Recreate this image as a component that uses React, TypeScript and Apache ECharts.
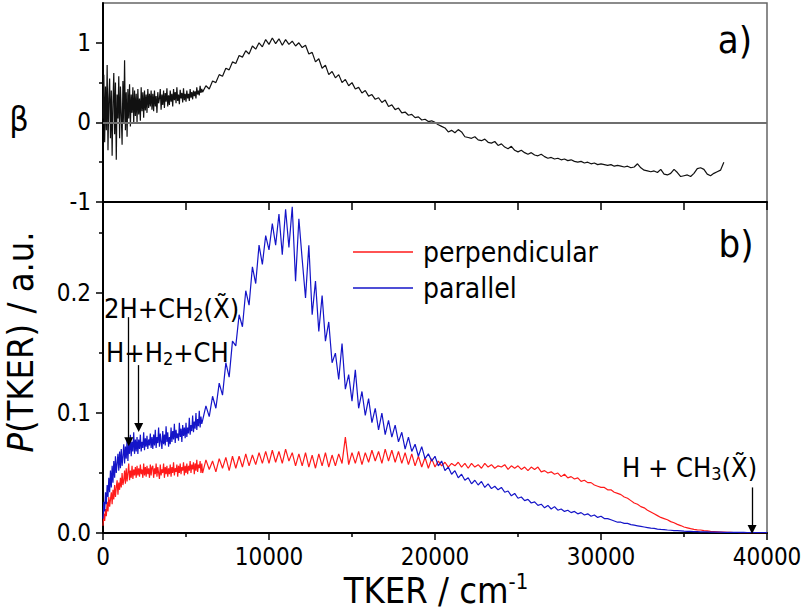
import React, { useEffect, useRef } from "react";
import * as echarts from "echarts";

// TKER sampling (cm-1): 50 cm-1 steps below 6000, 200 cm-1 steps above
const tkerFine: number[] = Array.from({ length: 120 }, (_, i) => i * 50);
const tkerCoarse: number[] = Array.from({ length: 171 }, (_, i) => 6000 + i * 200);
const tker: number[] = [...tkerFine, ...tkerCoarse];

// anisotropy parameter beta (0 .. 37400 cm-1)
const beta: number[] = [
  // 0 - 5950 (50 cm-1 steps)
  0.05, 0.6, -0.25, 0.45, -0.1, 0.72, -0.35, 0.3, 0.55, -0.2,
  0.4, -0.42, 0.25, 0.62, -0.15, 0.5, -0.47, 0.35, 0.05, 0.58,
  -0.2, 0.45, 0.1, -0.28, 0.52, 0.0, 0.78, -0.1, 0.38, -0.18,
  0.42, 0.05, 0.48, -0.05, 0.35, 0.12, 0.44, -0.02, 0.4, 0.08,
  0.36, 0.0, 0.42, 0.1, 0.3, 0.02, 0.44, 0.14, 0.38, 0.06,
  0.4, 0.15, 0.35, 0.12, 0.42, 0.18, 0.36, 0.2, 0.4, 0.16,
  0.36, 0.14, 0.4, 0.2, 0.33, 0.12, 0.38, 0.24, 0.3, 0.42,
  0.16, 0.35, 0.22, 0.4, 0.18, 0.37, 0.26, 0.43, 0.2, 0.34,
  0.22, 0.4, 0.26, 0.36, 0.2, 0.42, 0.28, 0.38, 0.24, 0.44,
  0.27, 0.35, 0.23, 0.41, 0.3, 0.37, 0.25, 0.43, 0.28, 0.36,
  0.26, 0.4, 0.3, 0.36, 0.27, 0.42, 0.31, 0.38, 0.29, 0.4,
  0.33, 0.39, 0.3, 0.44, 0.35, 0.4, 0.34, 0.46, 0.37, 0.42,
  // 6000 - 37400 (200 cm-1 steps)
  0.38, 0.46, 0.42, 0.52, 0.5, 0.6, 0.58, 0.68, 0.66, 0.76,
  0.74, 0.84, 0.82, 0.9, 0.86, 0.96, 0.92, 1.0, 0.95, 1.04,
  0.98, 1.06, 0.99, 1.05, 0.97, 1.04, 0.98, 1.02, 0.96, 1.0,
  0.94, 0.97, 0.86, 0.88, 0.76, 0.8, 0.68, 0.72, 0.6, 0.64,
  0.56, 0.6, 0.5, 0.54, 0.46, 0.5, 0.42, 0.44, 0.37, 0.4,
  0.33, 0.35, 0.29, 0.31, 0.25, 0.28, 0.2, 0.22, 0.16, 0.18,
  0.12, 0.13, 0.09, 0.1, 0.06, 0.07, 0.03, 0.04, 0.01, 0.02,
  0.0, -0.03, -0.05, -0.07, -0.12, -0.1, -0.13, -0.09, -0.12, -0.18,
  -0.19, -0.2, -0.18, -0.22, -0.23, -0.21, -0.25, -0.26, -0.24, -0.29,
  -0.27, -0.31, -0.33, -0.3, -0.35, -0.37, -0.35, -0.38, -0.4, -0.38,
  -0.41, -0.42, -0.4, -0.43, -0.45, -0.44, -0.46, -0.45, -0.47, -0.46,
  -0.48, -0.47, -0.49, -0.5, -0.49, -0.51, -0.5, -0.52, -0.51, -0.53,
  -0.52, -0.53, -0.54, -0.53, -0.55, -0.54, -0.55, -0.56, -0.55, -0.57,
  -0.56, -0.52, -0.57, -0.6, -0.61, -0.62, -0.61, -0.63, -0.59, -0.65,
  -0.66, -0.64, -0.59, -0.63, -0.68, -0.67, -0.66, -0.68, -0.64, -0.58,
  -0.57, -0.59, -0.65, -0.67, -0.64, -0.62, -0.6, -0.5,
];

// P(TKER), perpendicular polarisation
const perpendicular: number[] = [
  // 0 - 5950
  0.006, 0.016, 0.010, 0.020, 0.014, 0.026, 0.018, 0.030, 0.022, 0.028,
  0.034, 0.024, 0.036, 0.028, 0.040, 0.030, 0.038, 0.044, 0.032, 0.042,
  0.036, 0.046, 0.038, 0.050, 0.040, 0.044, 0.052, 0.041, 0.054, 0.043,
  0.050, 0.058, 0.044, 0.052, 0.046, 0.056, 0.045, 0.053, 0.048, 0.055,
  0.046, 0.056, 0.048, 0.054, 0.047, 0.057, 0.049, 0.053, 0.046, 0.058,
  0.048, 0.055, 0.047, 0.056, 0.049, 0.054, 0.046, 0.057, 0.048, 0.055,
  0.056, 0.046, 0.054, 0.049, 0.058, 0.047, 0.055, 0.050, 0.045, 0.057,
  0.048, 0.053, 0.050, 0.058, 0.046, 0.055, 0.049, 0.056, 0.047, 0.054,
  0.049, 0.057, 0.047, 0.055, 0.050, 0.059, 0.048, 0.054, 0.051, 0.057,
  0.047, 0.056, 0.050, 0.058, 0.049, 0.055, 0.052, 0.059, 0.048, 0.056,
  0.050, 0.058, 0.049, 0.056, 0.052, 0.060, 0.050, 0.057, 0.053, 0.059,
  0.049, 0.058, 0.052, 0.061, 0.051, 0.057, 0.054, 0.060, 0.050, 0.058,
  // 6000 - 40000
  0.050, 0.061, 0.053, 0.060, 0.051, 0.062, 0.054, 0.063, 0.052, 0.064,
  0.054, 0.064, 0.055, 0.066, 0.056, 0.065, 0.057, 0.067, 0.058, 0.068,
  0.058, 0.069, 0.059, 0.068, 0.058, 0.070, 0.060, 0.067, 0.056, 0.066,
  0.056, 0.067, 0.055, 0.065, 0.054, 0.066, 0.056, 0.067, 0.055, 0.065,
  0.056, 0.066, 0.058, 0.080, 0.057, 0.067, 0.058, 0.068, 0.057, 0.067,
  0.059, 0.069, 0.060, 0.068, 0.058, 0.070, 0.060, 0.069, 0.059, 0.068,
  0.058, 0.067, 0.057, 0.066, 0.056, 0.064, 0.055, 0.063, 0.054, 0.062,
  0.055, 0.060, 0.056, 0.059, 0.055, 0.058, 0.056, 0.059, 0.055, 0.058,
  0.054, 0.058, 0.055, 0.057, 0.054, 0.058, 0.055, 0.057, 0.054, 0.056,
  0.055, 0.057, 0.053, 0.056, 0.054, 0.056, 0.053, 0.055, 0.052, 0.055,
  0.053, 0.055, 0.051, 0.052, 0.050, 0.051, 0.049, 0.050, 0.047, 0.049,
  0.046, 0.047, 0.045, 0.046, 0.043, 0.044, 0.042, 0.042, 0.040, 0.039,
  0.038, 0.038, 0.036, 0.036, 0.034, 0.033, 0.032, 0.030, 0.029, 0.027,
  0.025, 0.024, 0.022, 0.021, 0.019, 0.0175, 0.016, 0.0145, 0.013, 0.012,
  0.011, 0.0095, 0.0085, 0.0072, 0.0062, 0.005, 0.0043, 0.0036, 0.003, 0.0026,
  0.0025, 0.002, 0.0017, 0.0014, 0.0012, 0.001, 0.0008, 0.0007, 0.0006, 0.0005,
  0.0004, 0.0004, 0.0003, 0.0003, 0.0003, 0.0003, 0.0003, 0.0003, 0.0003, 0.0003,
  0.0003,
];

// P(TKER), parallel polarisation
const parallel: number[] = [
  // 0 - 5950
  0.012, 0.026, 0.018, 0.034, 0.024, 0.040, 0.030, 0.046, 0.034, 0.052,
  0.038, 0.056, 0.042, 0.060, 0.046, 0.064, 0.050, 0.058, 0.066, 0.052,
  0.068, 0.054, 0.070, 0.056, 0.064, 0.074, 0.058, 0.072, 0.062, 0.078,
  0.060, 0.074, 0.066, 0.082, 0.064, 0.076, 0.068, 0.084, 0.066, 0.078,
  0.068, 0.080, 0.066, 0.078, 0.070, 0.082, 0.068, 0.076, 0.071, 0.084,
  0.069, 0.079, 0.072, 0.081, 0.070, 0.078, 0.073, 0.083, 0.071, 0.080,
  0.070, 0.082, 0.073, 0.086, 0.071, 0.080, 0.075, 0.088, 0.072, 0.083,
  0.076, 0.070, 0.085, 0.074, 0.082, 0.073, 0.089, 0.076, 0.084, 0.072,
  0.080, 0.074, 0.088, 0.076, 0.085, 0.078, 0.091, 0.075, 0.086, 0.079,
  0.083, 0.077, 0.092, 0.080, 0.087, 0.076, 0.090, 0.081, 0.088, 0.079,
  0.092, 0.080, 0.088, 0.083, 0.096, 0.082, 0.090, 0.085, 0.098, 0.084,
  0.093, 0.087, 0.100, 0.086, 0.095, 0.089, 0.102, 0.088, 0.097, 0.091,
  // 6000 - 40000
  0.094, 0.106, 0.097, 0.114, 0.104, 0.125, 0.115, 0.142, 0.130, 0.160,
  0.156, 0.182, 0.172, 0.202, 0.190, 0.222, 0.208, 0.240, 0.224, 0.248,
  0.236, 0.258, 0.240, 0.266, 0.232, 0.270, 0.238, 0.272, 0.210, 0.262,
  0.228, 0.196, 0.240, 0.182, 0.210, 0.168, 0.198, 0.160, 0.176, 0.142,
  0.150, 0.128, 0.158, 0.120, 0.132, 0.110, 0.136, 0.104, 0.118, 0.098,
  0.112, 0.092, 0.104, 0.086, 0.100, 0.082, 0.094, 0.080, 0.090, 0.076,
  0.084, 0.070, 0.080, 0.068, 0.074, 0.064, 0.072, 0.062, 0.066, 0.060,
  0.064, 0.056, 0.060, 0.052, 0.055, 0.049, 0.052, 0.046, 0.049, 0.044,
  0.046, 0.041, 0.044, 0.040, 0.043, 0.038, 0.041, 0.037, 0.039, 0.036,
  0.038, 0.034, 0.035, 0.031, 0.033, 0.029, 0.030, 0.027, 0.028, 0.025,
  0.026, 0.023, 0.024, 0.021, 0.023, 0.020, 0.022, 0.019, 0.020, 0.018,
  0.019, 0.017, 0.018, 0.016, 0.017, 0.015, 0.016, 0.014, 0.015, 0.013,
  0.014, 0.012, 0.012, 0.011, 0.010, 0.009, 0.009, 0.008, 0.008, 0.007,
  0.0065, 0.006, 0.0055, 0.005, 0.0045, 0.004, 0.0038, 0.0033, 0.003, 0.0028,
  0.0025, 0.0023, 0.002, 0.0019, 0.0017, 0.0015, 0.0014, 0.0013, 0.0012, 0.0011,
  0.001, 0.001, 0.0009, 0.0008, 0.0008, 0.0007, 0.0007, 0.0006, 0.0006, 0.0006,
  0.0005, 0.0005, 0.0005, 0.0005, 0.0004, 0.0004, 0.0004, 0.0004, 0.0004, 0.0004,
  0.0004,
];

// tick positions
const xMajorTicks = [0, 10000, 20000, 30000, 40000];
const xMinorTicks = [5000, 15000, 25000, 35000];
const xTopTicks = [0, 5000, 10000, 15000, 20000, 25000, 30000, 35000, 40000];
const betaMajorTicks = [-1, 0, 1];
const betaMinorTicks = [-0.5, 0.5];
const pMajorTicks = [0, 0.1, 0.2];
const pMinorTicks = [0.05, 0.15, 0.25];

// dissociation thresholds (arrow annotations): [TKER, arrow start, arrow tip]
const arrowMarks: [number, number, number][] = [
  [1550, 0.18, 0.076],
  [2150, 0.14, 0.088],
  [39100, 0.038, 0.003],
];

const FONT = "'DejaVu Sans Condensed', 'DejaVu Sans', sans-serif";
const RED = "#ff1a1a";
const BLUE = "#1414c8";

export default function App() {
  const ref = useRef<HTMLDivElement>(null);
  useEffect(() => {
    if (!ref.current) return;
    const chart = echarts.init(ref.current, undefined, { renderer: "svg" });

    const pairs = (ys: number[]) => ys.map((y, i) => [tker[i], y]);
    const labelStyle = { color: "#000", fontSize: 24, fontFamily: FONT };
    const rich = {
      n: { fontSize: 27, fontFamily: FONT, lineHeight: 30, color: "#000" },
      s: { fontSize: 18, fontFamily: FONT, lineHeight: 18, verticalAlign: "bottom", color: "#000" },
    };

    const option: any = {
      animation: false,
      backgroundColor: "#fff",
      textStyle: { fontFamily: FONT },
      grid: [
        { left: 103, right: 38, top: 3, height: 199, show: true, borderColor: "#666", borderWidth: 1.5 },
        { left: 103, right: 38, top: 202, height: 331, show: true, borderColor: "#666", borderWidth: 1.5 },
      ],
      legend: {
        data: ["perpendicular", "parallel"],
        orient: "vertical",
        left: 353,
        top: 238,
        padding: 0,
        itemWidth: 60,
        itemHeight: 1.5,
        itemGap: 8,
        icon: "rect",
        textStyle: { fontSize: 28, fontFamily: FONT, color: "#000", padding: [0, 0, 0, 5], lineHeight: 28 },
      },
      xAxis: [
        {
          type: "value", gridIndex: 0, min: 0, max: 40000,
          axisLine: { show: false }, axisTick: { show: false }, axisLabel: { show: false }, splitLine: { show: false },
        },
        {
          type: "value", gridIndex: 1, min: 0, max: 40000, position: "bottom",
          axisLine: { show: true, onZero: false, lineStyle: { color: "#000", width: 2 } },
          axisTick: { show: true, inside: false, length: 7, customValues: xMajorTicks, lineStyle: { color: "#000", width: 1.5 } },
          axisLabel: { ...labelStyle, margin: 12, customValues: xMajorTicks, formatter: (v: number) => String(v) },
          splitLine: { show: false },
        },
        {
          type: "value", gridIndex: 1, min: 0, max: 40000, position: "bottom",
          axisLine: { show: false },
          axisTick: { show: true, inside: false, length: 4, customValues: xMinorTicks, lineStyle: { color: "#000", width: 1.5 } },
          axisLabel: { show: false },
          splitLine: { show: false },
        },
        {
          type: "value", gridIndex: 1, min: 0, max: 40000, position: "top",
          axisLine: { show: true, onZero: false, lineStyle: { color: "#000", width: 2 } },
          axisTick: { show: true, inside: true, length: 8, customValues: xTopTicks, lineStyle: { color: "#000", width: 1.5 } },
          axisLabel: { show: false },
          splitLine: { show: false },
        },
      ],
      yAxis: [
        {
          type: "value", gridIndex: 0, min: -1, max: 1.5, position: "left",
          axisLine: { show: true, onZero: false, lineStyle: { color: "#000", width: 2 } },
          axisTick: { show: true, inside: false, length: 7, customValues: betaMajorTicks, lineStyle: { color: "#000", width: 1.5 } },
          axisLabel: { ...labelStyle, margin: 12, customValues: betaMajorTicks },
          splitLine: { show: false },
        },
        {
          type: "value", gridIndex: 0, min: -1, max: 1.5, position: "left",
          axisLine: { show: false },
          axisTick: { show: true, inside: false, length: 4, customValues: betaMinorTicks, lineStyle: { color: "#000", width: 1.5 } },
          axisLabel: { show: false },
          splitLine: { show: false },
        },
        {
          type: "value", gridIndex: 1, min: 0, max: 0.276, position: "left",
          axisLine: { show: true, onZero: false, lineStyle: { color: "#000", width: 2 } },
          axisTick: { show: true, inside: false, length: 7, customValues: pMajorTicks, lineStyle: { color: "#000", width: 1.5 } },
          axisLabel: { ...labelStyle, margin: 12, customValues: pMajorTicks, formatter: (v: number) => v.toFixed(1) },
          splitLine: { show: false },
        },
        {
          type: "value", gridIndex: 1, min: 0, max: 0.276, position: "left",
          axisLine: { show: false },
          axisTick: { show: true, inside: false, length: 4, customValues: pMinorTicks, lineStyle: { color: "#000", width: 1.5 } },
          axisLabel: { show: false },
          splitLine: { show: false },
        },
      ],
      series: [
        {
          name: "beta", type: "line", xAxisIndex: 0, yAxisIndex: 0,
          data: pairs(beta), showSymbol: false, symbol: "none",
          lineStyle: { color: "#111", width: 1.2 }, itemStyle: { color: "#111" },
          markLine: {
            silent: true, symbol: "none", label: { show: false },
            lineStyle: { color: "#6e6e6e", width: 1.8, type: "solid" },
            data: [{ yAxis: 0 }],
          },
          z: 3,
        },
        {
          name: "perpendicular", type: "line", xAxisIndex: 1, yAxisIndex: 2,
          data: pairs(perpendicular), showSymbol: false, symbol: "none",
          lineStyle: { color: RED, width: 1.2 }, itemStyle: { color: RED },
          z: 3,
        },
        {
          name: "parallel", type: "line", xAxisIndex: 1, yAxisIndex: 2,
          data: pairs(parallel), showSymbol: false, symbol: "none",
          lineStyle: { color: BLUE, width: 1.2 }, itemStyle: { color: BLUE },
          markLine: {
            silent: true, symbol: ["none", "triangle"], symbolSize: 9,
            label: { show: false },
            lineStyle: { color: "#000", width: 1.3, type: "solid" },
            itemStyle: { color: "#000" },
            data: arrowMarks.map(([x, y0, y1]) => [{ coord: [x, y0] }, { coord: [x, y1] }]),
          },
          z: 4,
        },
      ],
      graphic: [
        { type: "text", x: 19, y: 119, style: { text: "β", fontSize: 34, fontFamily: FONT, fill: "#000", align: "center", verticalAlign: "middle" } },
        { type: "text", x: 735, y: 40, style: { text: "a)", fontSize: 38, fontFamily: FONT, fill: "#000", align: "center", verticalAlign: "middle" } },
        { type: "text", x: 736, y: 244, style: { text: "b)", fontSize: 38, fontFamily: FONT, fill: "#000", align: "center", verticalAlign: "middle" } },
        {
          type: "text", x: 20, y: 342, rotation: Math.PI / 2,
          style: {
            text: "{i|P}{n|(TKER) / a.u.}", align: "center", verticalAlign: "middle", fill: "#000",
            rich: {
              i: { fontSize: 36, fontFamily: FONT, fontStyle: "italic", color: "#000" },
              n: { fontSize: 36, fontFamily: FONT, color: "#000" },
            },
          },
        },
        {
          type: "text", x: 436, y: 590,
          style: {
            text: "{n|TKER / cm}{p|-1}", align: "center", verticalAlign: "middle", fill: "#000",
            rich: {
              n: { fontSize: 36, fontFamily: FONT, lineHeight: 40, color: "#000" },
              p: { fontSize: 22, fontFamily: FONT, lineHeight: 22, verticalAlign: "top", color: "#000" },
            },
          },
        },
        {
          type: "text", x: 104, y: 308,
          style: { text: "{n|2H+CH}{s|2}{n|(X\u0303)}", align: "left", verticalAlign: "middle", fill: "#000", rich },
        },
        {
          type: "text", x: 106, y: 352,
          style: { text: "{n|H+H}{s|2}{n|+CH}", align: "left", verticalAlign: "middle", fill: "#000", rich },
        },
        {
          type: "text", x: 622, y: 467,
          style: { text: "{n|H + CH}{s|3}{n|(X\u0303)}", align: "left", verticalAlign: "middle", fill: "#000", rich },
        },
      ],
    };

    chart.setOption(option);
    return () => chart.dispose();
  }, []);

  return <div ref={ref} style={{ position: "absolute", left: 0, top: 0, width: 805, height: 613 }} />;
}
